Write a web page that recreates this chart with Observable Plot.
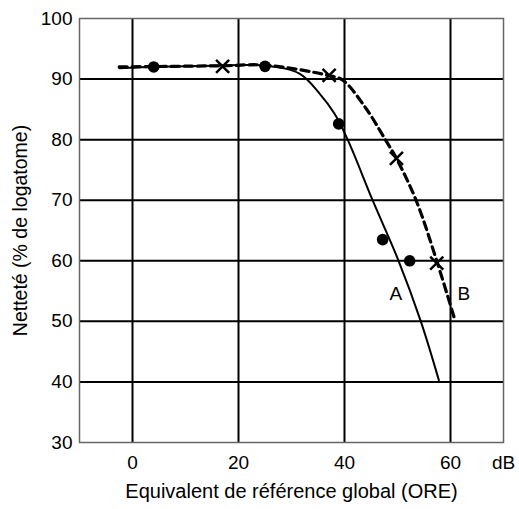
<!DOCTYPE html>
<html>
<head>
<meta charset="utf-8">
<script src="https://cdn.jsdelivr.net/npm/d3@7"></script>
<script src="https://cdn.jsdelivr.net/npm/@observablehq/plot@0.6"></script>
<style>
  body { margin: 0; background: #fff; }
  svg { font-family: "Liberation Sans", Arial, sans-serif; }
</style>
</head>
<body>
<div id="chart"></div>
<script>
// Measured points
const aX = [4, 25, 38.9, 47.2, 52.3];
const aY = [92, 92.1, 82.6, 63.5, 60.0];
const bX = [17, 37.1, 49.8, 57.4];
const bY = [92.1, 90.6, 76.9, 59.6];

// Fitted curves
const curveAX = [-2.5, 4, 15, 25, 31.5, 35.3, 38.1, 40.6, 45.3, 50.2, 54.4, 57.8];
const curveAY = [91.8, 92, 92.2, 92.2, 90.9, 87.6, 84.3, 80.0, 70.0, 60.0, 50.0, 40.3];
const curveBX = [-2.5, 17, 25, 37, 39.7, 44.1, 47.7, 49.8, 53.5, 57.4, 60.8];
const curveBY = [92.0, 92.2, 92.3, 90.6, 89.8, 85.1, 80.0, 76.9, 70.0, 60.0, 50.3];

const curveLabels = ["A", "B"];
const labelX = [49.7, 62.5];
const labelY = [54.6, 54.6];

const xTicks = [0, 20, 40, 60];
const xTickLabels = ["0", "20", "40", "60", "dB"];
const xTickPos = [0, 20, 40, 60, 70];
const yTicks = [30, 40, 50, 60, 70, 80, 90, 100];
const yGrid = [40, 50, 60, 70, 80, 90];

const A = aX.map((x, i) => ({x, y: aY[i]}));
const B = bX.map((x, i) => ({x, y: bY[i]}));
const CA = curveAX.map((x, i) => ({x, y: curveAY[i]}));
const CB = curveBX.map((x, i) => ({x, y: curveBY[i]}));
const L = curveLabels.map((t, i) => ({t, x: labelX[i], y: labelY[i]}));

const FS = 19;

const chart = Plot.plot({
  width: 519,
  height: 509,
  marginLeft: 79,
  marginRight: 16,
  marginTop: 18,
  marginBottom: 67,
  style: {fontFamily: "Liberation Sans, Arial, sans-serif", fontSize: FS + "px", color: "black", background: "white"},
  x: {domain: [-10, 70]},
  y: {domain: [30, 100]},
  marks: [
    Plot.ruleX(xTicks, {y1: 30, y2: 100, stroke: "black", strokeWidth: 2}),
    Plot.ruleY(yGrid, {x1: -10, x2: 70, stroke: "black", strokeWidth: 2}),
    Plot.frame({stroke: "#666", strokeWidth: 1.5}),
    Plot.axisX(xTickPos, {tickSize: 0, tickPadding: 13, tickFormat: (d) => xTickLabels[xTickPos.indexOf(d)],
      fontSize: FS, label: null}),
    Plot.axisX({label: "Equivalent de référence global (ORE)", labelAnchor: "center", labelArrow: "none",
      labelOffset: 55, ticks: [], tickSize: 0, fontSize: 20}),
    Plot.axisY(yTicks, {tickSize: 0, tickPadding: 7, fontSize: FS, label: null}),
    Plot.axisY({label: "Netteté (% de logatome)", labelAnchor: "center", labelArrow: "none",
      labelOffset: 66, ticks: [], tickSize: 0, fontSize: 19.5}),
    Plot.line(CA, {x: "x", y: "y", curve: "catmull-rom", stroke: "black", strokeWidth: 2}),
    Plot.line(CB, {x: "x", y: "y", curve: "catmull-rom", stroke: "black", strokeWidth: 3.2, strokeDasharray: "8,5"}),
    Plot.dot(A, {x: "x", y: "y", r: 5.8, fill: "black"}),
    Plot.dot(B, {x: "x", y: "y", symbol: "times", r: 6, stroke: "black", strokeWidth: 2.5}),
    Plot.text(L, {x: "x", y: "y", text: "t", fontSize: FS, fill: "black"})
  ]
});
document.getElementById("chart").appendChild(chart);
</script>
</body>
</html>
